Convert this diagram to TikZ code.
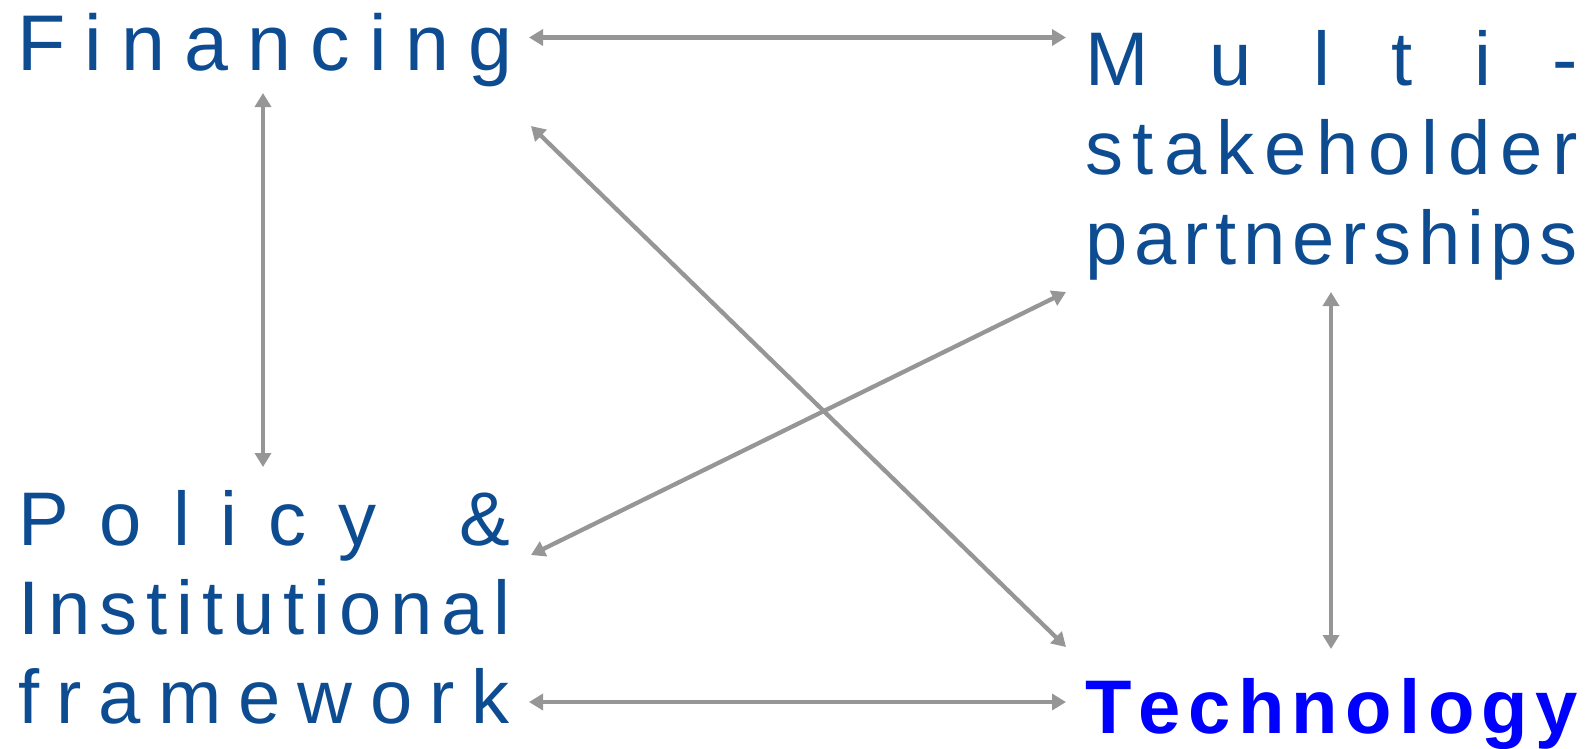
\documentclass[tikz,border=0pt]{standalone}
\usepackage{fontspec}
\setmainfont{Liberation Sans}
\usetikzlibrary{arrows.meta}
\definecolor{txtblue}{RGB}{14,76,145}
\definecolor{techblue}{RGB}{0,0,255}
\definecolor{arrgray}{RGB}{150,150,150}
\newcommand{\spreadline}[2]{\hbox{\makebox[#1][s]{#2}}}
\begin{document}
\begin{tikzpicture}[x=1pt,y=-1pt,
  lbl/.style={inner sep=0pt, outer sep=0pt, anchor=base west, text=txtblue,
    font=\fontsize{76}{89}\selectfont},
  link/.style={draw=arrgray, line width=4.3pt,
    {Triangle[length=14pt,width=16pt]}-{Triangle[length=14pt,width=16pt]}}]
\useasboundingbox (0,0) rectangle (1589,748);

% text blocks
\node[lbl, font=\fontsize{79}{89}\selectfont] (fin) at (17,70)
  {\spreadline{496pt}{F\hfill i\hfill n\hfill a\hfill n\hfill c\hfill i\hfill n\hfill g}};
\node[lbl] (msp) at (1085,85)
  {\vtop{\baselineskip=89.5pt\lineskiplimit=-1000pt
    \spreadline{493pt}{M\hfill u\hfill l\hfill t\hfill i\hfill -}
    \spreadline{493pt}{s\hfill t\hfill a\hfill k\hfill e\hfill h\hfill o\hfill l\hfill d\hfill e\hfill r}
    \spreadline{493pt}{p\hfill a\hfill r\hfill t\hfill n\hfill e\hfill r\hfill s\hfill h\hfill i\hfill p\hfill s}}};
\node[lbl] (pol) at (18,545)
  {\vtop{\baselineskip=89pt\lineskiplimit=-1000pt
    \spreadline{492pt}{P\hfill o\hfill l\hfill i\hfill c\hfill y\hfill\hbox to 21pt{}\hfill\&}
    \spreadline{492pt}{I\hfill n\hfill s\hfill t\hfill i\hfill t\hfill u\hfill t\hfill i\hfill o\hfill n\hfill a\hfill l}
    \spreadline{492pt}{f\hfill r\hfill a\hfill m\hfill e\hfill w\hfill o\hfill r\hfill k}}};
\node[lbl, text=techblue, font=\fontsize{76}{89}\selectfont\bfseries] (tech) at (1085,733)
  {\spreadline{493pt}{T\hfill e\hfill c\hfill h\hfill n\hfill o\hfill l\hfill o\hfill g\hfill y}};

% connector end points
\coordinate (finE) at (529,37.5);
\coordinate (mspW) at (1066,37.5);
\coordinate (finS) at (263,93);
\coordinate (polN) at (263,467);
\coordinate (finSE) at (531,126);
\coordinate (techNW) at (1066,647);
\coordinate (polNE) at (531,555);
\coordinate (mspSW) at (1066,292);
\coordinate (mspS) at (1331,292);
\coordinate (techN) at (1331,649);
\coordinate (polE) at (529,702);
\coordinate (techW) at (1066,702);

% connectors
\draw[link] (finE) -- (mspW);
\draw[link] (finS) -- (polN);
\draw[link] (finSE) -- (techNW);
\draw[link] (polNE) -- (mspSW);
\draw[link] (mspS) -- (techN);
\draw[link] (polE) -- (techW);
\end{tikzpicture}
\end{document}
